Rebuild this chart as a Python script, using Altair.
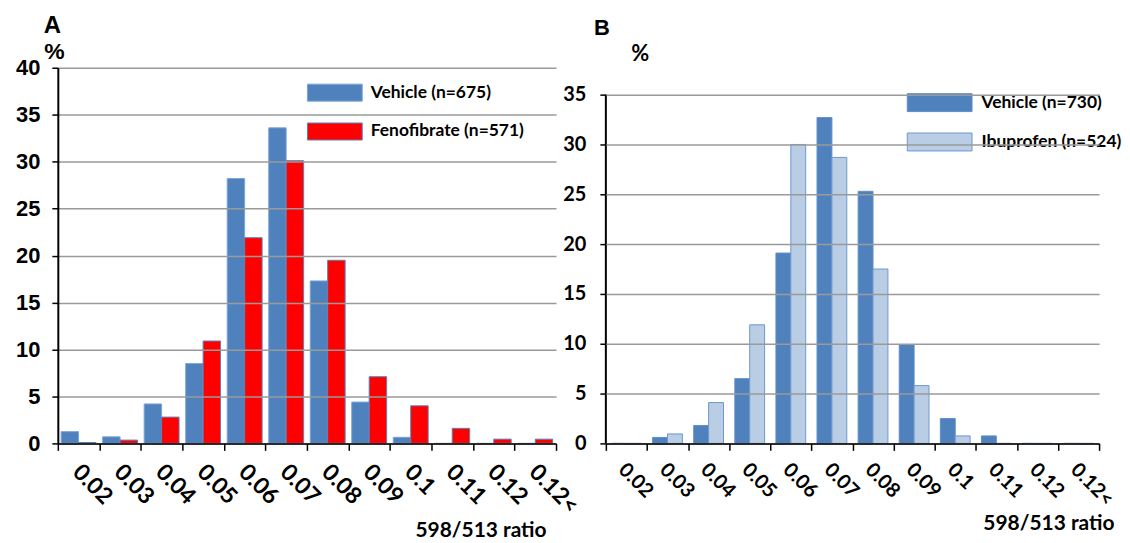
import altair as alt
import pandas as pd

cats = ["0.02", "0.03", "0.04", "0.05", "0.06", "0.07", "0.08", "0.09", "0.1", "0.11", "0.12", "0.12<"]

groups_a = ["Vehicle (n=675)", "Fenofibrate (n=571)"]
vehicle_a = [1.25, 0.7, 4.2, 8.5, 28.2, 33.6, 17.3, 4.4, 0.65, 0, 0, 0]
fenofibrate_a = [0.1, 0.35, 2.8, 10.9, 21.9, 30.1, 19.5, 7.1, 4.0, 1.6, 0.45, 0.45]

groups_b = ["Vehicle (n=730)", "Ibuprofen (n=524)"]
vehicle_b = [0, 0.6, 1.8, 6.5, 19.1, 32.7, 25.3, 9.9, 2.5, 0.75, 0, 0]
ibuprofen_b = [0, 0.95, 4.1, 11.9, 30.0, 28.7, 17.5, 5.8, 0.75, 0, 0, 0]

yticks_a = [0, 5, 10, 15, 20, 25, 30, 35, 40]
yticks_b = [0, 5, 10, 15, 20, 25, 30, 35]

df_a = pd.DataFrame({
    "ratio": cats * 2,
    "group": [groups_a[0]] * len(cats) + [groups_a[1]] * len(cats),
    "pct": vehicle_a + fenofibrate_a,
})
df_b = pd.DataFrame({
    "ratio": cats * 2,
    "group": [groups_b[0]] * len(cats) + [groups_b[1]] * len(cats),
    "pct": vehicle_b + ibuprofen_b,
})
df_one = pd.DataFrame({"k": [0]})

RECT = "M-1,-0.31L1,-0.31L1,0.31L-1,0.31Z"
RECT_B = "M-2,-0.554L2,-0.554L2,0.554L-2,0.554Z"

W_A, H = 500, 377
W_B = 495
B_TOP = 37.7  # B scale top so that 35 sits lower (matching the reference)


def x_axis(title_x, title_y, label_size, pad, off):
    return alt.Axis(
        title="598/513 ratio", labelAngle=45, labelAlign="left", labelBaseline="top",
        labelFont="Lato", labelFontWeight="bold", labelFontSize=label_size, labelColor="black",
        labelPadding=pad, labelOffset=off, tickBand="extent", ticks=True, tickSize=7,
        tickColor="black", tickWidth=1.5, domainColor="black", domainWidth=1.5, grid=False,
        titleFont="Lato", titleFontWeight="bold", titleFontSize=21, titleColor="black",
        titleX=title_x, titleY=title_y, titleAlign="right", titleBaseline="alphabetic",
        labelOverlap=False, labelBound=False, zindex=1,
    )


chart_a = alt.Chart(df_a).mark_bar(strokeWidth=1).encode(
    x=alt.X("ratio:N", sort=cats, scale=alt.Scale(paddingInner=0, paddingOuter=0),
            axis=x_axis(W_A - 10, 93, 23, 10, 5)),
    xOffset=alt.XOffset("group:N", sort=groups_a,
                        scale=alt.Scale(domain=groups_a, paddingInner=0, paddingOuter=0.19)),
    y=alt.Y("pct:Q", scale=alt.Scale(domain=[0, 40], nice=False),
            axis=alt.Axis(values=yticks_a, title="%", titleAngle=0, titleX=-4, titleY=-27,
                          titleAlign="center", titleBaseline="top", titleFont="Liberation Sans",
                          titleFontSize=23, titleFontWeight="bold", titleColor="black",
                          labelFont="Liberation Sans", labelFontSize=22, labelFontWeight="bold",
                          labelColor="black", labelPadding=12, tickSize=6, tickColor="black",
                          tickWidth=1.5, domainColor="black", domainWidth=2,
                          gridColor="#9a9a9a", gridWidth=1.5, zindex=1)),
    color=alt.Color("group:N", sort=groups_a,
                    scale=alt.Scale(domain=groups_a, range=["#4F81BD", "#FF0000"]),
                    legend=alt.Legend(title=None, orient="none", legendX=250, legendY=-3,
                                      direction="vertical", symbolType=RECT, symbolSize=3025,
                                      symbolStrokeColor="#41719C", symbolStrokeWidth=1,
                                      symbolOpacity=1, labelFont="Lato", labelFontSize=17.5,
                                      labelFontWeight="bold", labelColor="black",
                                      labelOffset=8, rowPadding=-22, padding=0)),
    stroke=alt.Stroke("group:N", scale=alt.Scale(domain=groups_a, range=["#7AA6DA", "#5A7FB5"]),
                      legend=None),
).properties(
    width=W_A, height=H,
    title=alt.TitleParams("A", anchor="start", frame="group", dx=-14, font="Liberation Sans",
                          fontSize=24, fontWeight="bold", color="black", offset=3),
)

bars_b = alt.Chart(df_b).mark_bar(strokeWidth=1).encode(
    x=alt.X("ratio:N", sort=cats, scale=alt.Scale(paddingInner=0, paddingOuter=0),
            axis=x_axis(W_B + 15, 86, 20, 9, 2)),
    xOffset=alt.XOffset("group:N", sort=groups_b,
                        scale=alt.Scale(domain=groups_b, paddingInner=0, paddingOuter=0.38)),
    y=alt.Y("pct:Q", scale=alt.Scale(domain=[0, B_TOP], nice=False),
            axis=alt.Axis(values=yticks_b, title="%", titleAngle=0, titleX=34, titleY=-24,
                          titleAlign="center", titleBaseline="top", titleFont="Lato",
                          titleFontSize=22, titleFontWeight="bold", titleColor="black",
                          labelFont="Lato", labelFontSize=20, labelFontWeight="bold",
                          labelColor="black", labelPadding=14, tickSize=6, tickColor="black",
                          tickWidth=1.5, domain=False,
                          gridColor="#9a9a9a", gridWidth=1.5, zindex=1)),
    color=alt.Color("group:N", sort=groups_b,
                    scale=alt.Scale(domain=groups_b, range=["#4F81BD", "#B9CDE5"]),
                    legend=alt.Legend(title=None, orient="none", legendX=318, legendY=18,
                                      direction="vertical", symbolType=RECT_B, symbolSize=1056,
                                      symbolStrokeColor="#385D8A", symbolStrokeWidth=1,
                                      symbolOpacity=1, labelFont="Lato", labelFontSize=17.5,
                                      labelFontWeight="bold", labelColor="black",
                                      labelOffset=25, rowPadding=10.5, padding=0,
                                      fillColor="white")),
    stroke=alt.Stroke("group:N", scale=alt.Scale(domain=groups_b, range=["#5F8FCB", "#6E98CF"]),
                      legend=None),
)

axis_b = alt.Chart(df_one).mark_rule(color="black", strokeWidth=2).encode(
    x=alt.value(0), y=alt.datum(0), y2=alt.datum(35),
)

chart_b = alt.layer(bars_b, axis_b).properties(
    width=W_B, height=H,
    title=alt.TitleParams("B", anchor="start", frame="group", dx=-12, font="Liberation Sans",
                          fontSize=22, fontWeight="bold", color="black", offset=3),
)

chart = alt.hconcat(chart_a, chart_b, spacing=50, bounds="flush").resolve_scale(
    x="independent", y="independent", xOffset="independent",
    color="independent", stroke="independent",
).resolve_legend(color="independent", stroke="independent").properties(
    padding={"left": 7, "top": 5, "right": 0, "bottom": 0},
    background="white",
).configure_view(stroke=None)

chart.save("out.html", embed_options={"renderer": "svg", "actions": False})
